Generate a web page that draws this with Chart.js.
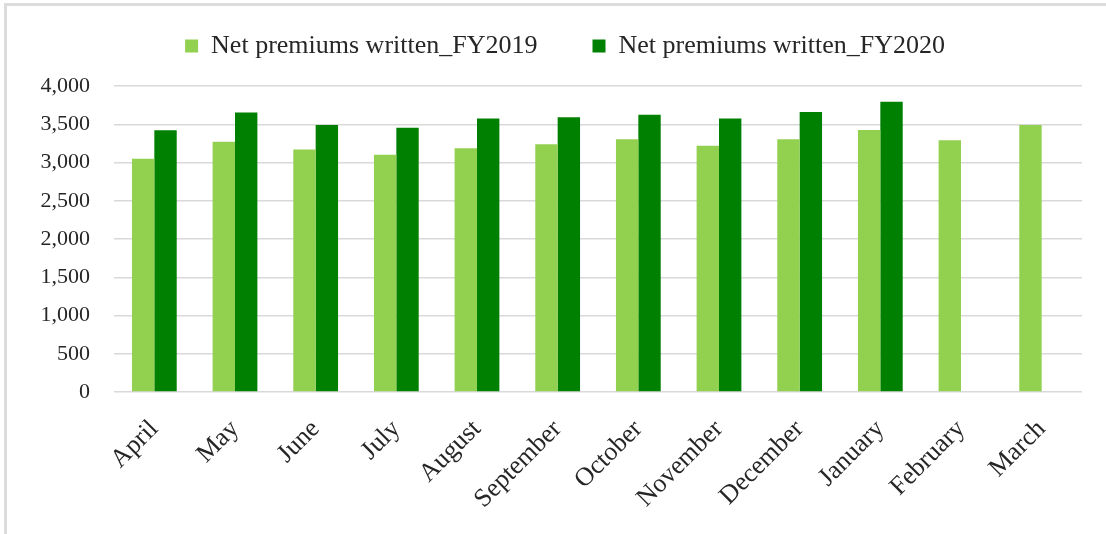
<!DOCTYPE html>
<html><head><meta charset="UTF-8"><title>Net premiums written</title>
<script src="https://cdn.jsdelivr.net/npm/chart.js"></script>
<style>
  html, body { margin: 0; padding: 0; background: #fff; }
  body { width: 1106px; height: 534px; position: relative; overflow: hidden; }
  .frame { position: absolute; left: 4px; top: 3px; right: -10px; bottom: -10px; border-top: 3px solid #dcdcdc; border-left: 3px solid #dcdcdc; }
  .wrap { position: absolute; left: 0; top: 0; width: 1106px; height: 534px; }
</style></head><body>
<div class="frame"></div>
<div class="wrap"><canvas id="c" width="1106" height="534"></canvas></div>
<script>
// months of the fiscal year
const months = ['April', 'May', 'June', 'July', 'August', 'September', 'October', 'November', 'December', 'January', 'February', 'March'];
const fy2019 = [3050, 3270, 3170, 3100, 3185, 3240, 3305, 3220, 3305, 3425, 3290, 3490];
const fy2020 = [3420, 3655, 3490, 3455, 3575, 3590, 3625, 3575, 3660, 3795, null, null];
const yTicks = [0, 500, 1000, 1500, 2000, 2500, 3000, 3500, 4000];

const serif = "'Liberation Serif', 'DejaVu Serif', serif";
Chart.defaults.font.family = serif;
Chart.defaults.color = '#262626';

// leave a gap under the legend without moving its text, and nudge it right
const legendGap = {
  id: 'legendGap',
  beforeUpdate(chart) {
    const lg = chart.legend;
    if (lg && !lg._gap) {
      const fit = lg.fit;
      lg.fit = function () { fit.call(this); this.height += 17; };
      lg._gap = true;
    }
  },
  afterLayout(chart) {
    const lg = chart.legend;
    if (lg) { lg.left += 24; lg.right += 24; }
  }
};

new Chart(document.getElementById('c'), {
  type: 'bar',
  data: {
    labels: months,
    datasets: [
      { label: 'Net premiums written_FY2019', data: fy2019, backgroundColor: '#92d050', categoryPercentage: 0.555, barPercentage: 1.0 },
      { label: 'Net premiums written_FY2020', data: fy2020, backgroundColor: '#008000', categoryPercentage: 0.555, barPercentage: 1.0 }
    ]
  },
  plugins: [legendGap],
  options: {
    responsive: false,
    animation: false,
    layout: { padding: { top: -22, right: 24, bottom: 0, left: 0 } },
    plugins: {
      tooltip: { enabled: false },
      legend: {
        position: 'top',
        labels: { font: { size: 26 }, boxWidth: 13, boxHeight: 13, padding: 55, color: '#262626' }
      }
    },
    scales: {
      x: {
        grid: { display: false },
        border: { display: false },
        ticks: { font: { size: 26 }, maxRotation: 45, minRotation: 45, padding: 14, color: '#262626' },
        afterFit: s => { s.height = 142; }
      },
      y: {
        min: 0, max: 4000,
        afterBuildTicks: s => { s.ticks = yTicks.map(v => ({ value: v })); },
        grid: { color: '#d9d9d9', lineWidth: 1.5, drawTicks: false },
        border: { display: false },
        ticks: { font: { size: 22 }, padding: 24, color: '#262626', callback: v => v.toLocaleString('en-US') },
        afterFit: s => { s.width = 114; }
      }
    }
  }
});
</script>
</body></html>
